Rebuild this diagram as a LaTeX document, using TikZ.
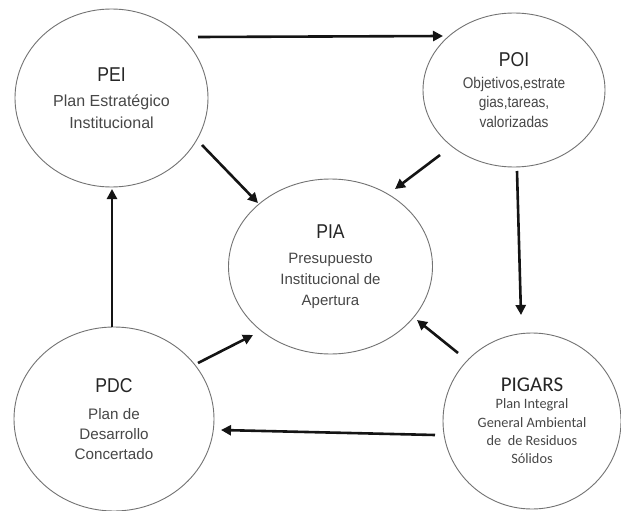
\documentclass[tikz,border=0pt]{standalone}
\usepackage{fontspec}
\setmainfont{Liberation Sans}
\newfontfamily\condfont[FakeStretch=0.88]{Liberation Sans}
\newfontfamily\calfont{Carlito}
\usetikzlibrary{shapes.geometric,arrows.meta,calc}
\newcommand\mytitle[1]{{\condfont\fontsize{20}{24}\selectfont\color{black!85}#1}}
\begin{document}
\begin{tikzpicture}[x=1pt,y=-1pt,
  bub/.style={ellipse,draw=black!55,line width=0.9pt,inner sep=0pt,align=center,text=black!72},
  arr/.style={-{Triangle[length=10pt,width=10pt]},line width=2.6pt,draw=black!92}]
\fill[white] (0,0) rectangle (621,511);
\useasboundingbox (0,0) rectangle (621,511);

\node[bub,minimum width=193pt,minimum height=178pt,font=\fontsize{16}{22}\selectfont] (PEI) at (111.5,98)
  {\mytitle{PEI}\\[2.5pt]Plan Estratégico\\Institucional};
\node[bub,minimum width=182pt,minimum height=154pt,font=\condfont\fontsize{15.5}{19.5}\selectfont] (POI) at (514,90)
  {\mytitle{POI}\\[2pt]Objetivos,estrate\\gias,tareas,\\valorizadas};
\node[bub,minimum width=204pt,minimum height=175pt,font=\fontsize{15}{21}\selectfont] (PIA) at (330.5,266.5)
  {\mytitle{PIA}\\[3.5pt]Presupuesto\\Institucional de\\Apertura};
\node[bub,minimum width=200pt,minimum height=184pt,font=\fontsize{15.2}{20}\selectfont] (PDC) at (114,419)
  {\mytitle{PDC}\\[7.5pt]Plan de\\Desarrollo\\Concertado};
\node[bub,minimum width=178pt,minimum height=176pt,font=\calfont\fontsize{14.3}{18.3}\selectfont] (PIGARS) at (532,421)
  {{\fontsize{21}{24}\selectfont\color{black!85}PIGARS}\\[-1.3pt]Plan Integral\\General Ambiental\\de~~de Residuos\\Sólidos};

\draw[arr] ($(PEI.center)+(86.5,-61)$) -- ($(POI.center)+(-71,-54)$);
\draw[arr] ($(PEI.center)+(90.5,47)$) -- ($(PIA.center)+(-72.5,-63.5)$);
\draw[arr] ($(POI.center)+(-74,65)$) -- ($(PIA.center)+(64.5,-77.5)$);
\draw[arr] ($(POI.center)+(3,81)$) -- ($(PIGARS.center)+(-11,-106)$);
\draw[arr] ($(PIGARS.center)+(-74,-68)$) -- ($(PIA.center)+(86.5,53.5)$);
\draw[arr] ($(PIGARS.center)+(-97,14)$) -- ($(PDC.center)+(107,11)$);
\draw[arr] ($(PDC.center)+(84,-56)$) -- ($(PIA.center)+(-77.5,68.5)$);
\draw[arr] ($(PDC.center)+(-2,-92)$) -- ($(PEI.center)+(0.5,91)$);
\end{tikzpicture}
\end{document}
